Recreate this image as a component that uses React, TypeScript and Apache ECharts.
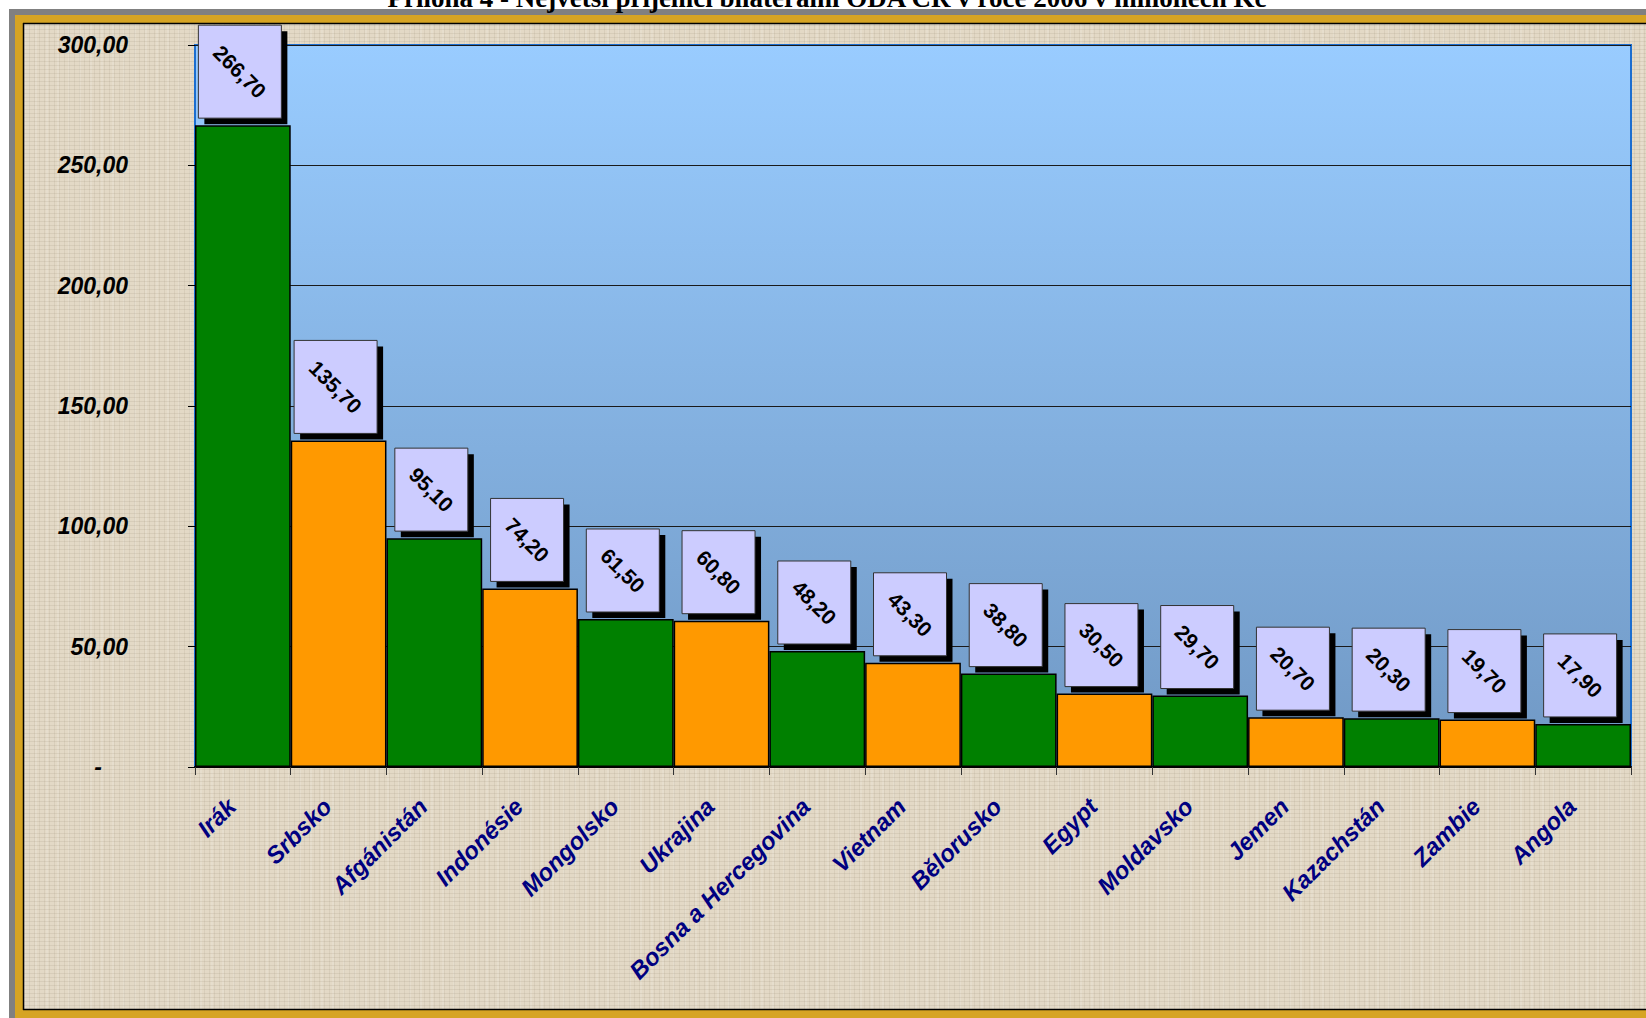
import React, { useEffect, useRef } from "react";
import * as echarts from "echarts";

const titleText = "Příloha 4 - Největší příjemci bilaterální ODA ČR v roce 2006 v milionech Kč";
const categories = [
  "Irák", "Srbsko", "Afgánistán", "Indonésie", "Mongolsko", "Ukrajina",
  "Bosna a Hercegovina", "Vietnam", "Bělorusko", "Egypt", "Moldavsko",
  "Jemen", "Kazachstán", "Zambie", "Angola",
];
const values = [266.7, 135.7, 95.1, 74.2, 61.5, 60.8, 48.2, 43.3, 38.8, 30.5, 29.7, 20.7, 20.3, 19.7, 17.9];
const barColors = ["#008000", "#FF9900"];
const yMin = 0;
const yMax = 300;
const yInterval = 50;

const fmt = (v: number) => v.toFixed(2).replace(".", ",");
const FONT = "Liberation Sans, Arial, sans-serif";

export default function App() {
  const ref = useRef<HTMLDivElement>(null);
  useEffect(() => {
    if (!ref.current) return;
    const chart = echarts.init(ref.current, null, { renderer: "svg" });
    const W = 1646, H = 1018;
    chart.setOption({
      animation: false,
      backgroundColor: "transparent",
      grid: {
        left: 195, top: 45, right: 15, bottom: 251,
        show: true,
        borderColor: "#1C6ED0",
        borderWidth: 2,
        backgroundColor: new echarts.graphic.LinearGradient(0, 0, 0, 1, [
          { offset: 0, color: "#99CCFF" },
          { offset: 1, color: "#7098C4" },
        ]),
      },
      xAxis: {
        type: "category",
        data: categories,
        axisLine: { lineStyle: { color: "#000", width: 2 } },
        axisTick: { show: true, length: 8, lineStyle: { color: "#333", width: 1 } },
        axisLabel: {
          interval: 0,
          rotate: 45,
          margin: 24,
          padding: [0, 16, 32, 0],
          color: "#000080",
          fontFamily: FONT,
          fontWeight: "bold",
          fontStyle: "italic",
          fontSize: 24,
        },
        z: 5,
      },
      yAxis: {
        type: "value",
        min: yMin,
        max: yMax,
        interval: yInterval,
        axisLine: { show: false },
        axisTick: { show: true, length: 7, lineStyle: { color: "#000" } },
        splitLine: { show: true, lineStyle: { color: "#1a1a1a", width: 1 } },
        axisLabel: {
          margin: 67,
          color: "#000",
          fontFamily: FONT,
          fontWeight: "bold",
          fontStyle: "italic",
          fontSize: 23,
          formatter: (v: number) => (v === 0 ? "{z|-}" : fmt(v)),
          rich: {
            z: { fontFamily: FONT, fontWeight: "bold", fontSize: 23, color: "#000", padding: [0, 26, 0, 0] },
          },
        },
      },
      series: [
        {
          type: "bar",
          barCategoryGap: "0%",
          data: values.map((v, i) => ({
            value: v,
            itemStyle: { color: barColors[i % 2], borderColor: "#000", borderWidth: 1.5 },
          })),
          z: 3,
        },
        {
          type: "custom",
          z: 10,
          clip: false,
          encode: { x: 0, y: 1 },
          data: values.map((v, i) => [i, v]),
          renderItem: (params: any, api: any) => {
            const idx = api.value(0);
            const v = api.value(1);
            const p = api.coord([idx, v]);
            const txt = fmt(v);
            const w = 23 + 10 * txt.length;
            const h = w + 10;
            const cx = p[0] - 3;
            const x = cx - w / 2;
            const y = p[1] - 7 - h;
            return {
              type: "group",
              children: [
                { type: "rect", shape: { x: x + 6, y: y + 6, width: w, height: h }, style: { fill: "#000" } },
                { type: "rect", shape: { x, y, width: w, height: h }, style: { fill: "#CCCCFF", stroke: "#333", lineWidth: 1 } },
                {
                  type: "text",
                  x: cx,
                  y: y + h / 2,
                  rotation: -Math.PI / 4,
                  style: {
                    text: txt,
                    fill: "#000",
                    font: 'bold 21px "Liberation Sans", Arial, sans-serif',
                    align: "center",
                    verticalAlign: "middle",
                  },
                },
              ],
            };
          },
        },
      ],
      graphic: [
        { type: "rect", shape: { x: 9, y: 9, width: W - 9, height: 6 }, style: { fill: "#808080" }, silent: true },
        { type: "rect", shape: { x: 9, y: 9, width: 6, height: H - 9 }, style: { fill: "#808080" }, silent: true },
        { type: "rect", shape: { x: 15, y: 15, width: W - 15, height: 8 }, style: { fill: "#D6A423" }, silent: true },
        { type: "rect", shape: { x: 15, y: 15, width: 8, height: H - 15 }, style: { fill: "#D6A423" }, silent: true },
        { type: "rect", shape: { x: 15, y: 1010, width: W - 15, height: 8 }, style: { fill: "#D6A423" }, silent: true },
        { type: "line", shape: { x1: 23, y1: 23.5, x2: W, y2: 23.5 }, style: { stroke: "#000", lineWidth: 1.5 }, silent: true },
        { type: "line", shape: { x1: 23.5, y1: 23, x2: 23.5, y2: 1010 }, style: { stroke: "#000", lineWidth: 1.5 }, silent: true },
        { type: "line", shape: { x1: 23, y1: 1009.5, x2: W, y2: 1009.5 }, style: { stroke: "#000", lineWidth: 1.5 }, silent: true },
        {
          type: "text",
          x: 827,
          y: -2,
          silent: true,
          style: {
            text: titleText,
            fill: "#000",
            font: 'bold 27px "Liberation Serif", "Times New Roman", serif',
            align: "center",
            verticalAlign: "middle",
            textAlign: "center",
            textVerticalAlign: "middle",
          },
        },
      ],
    });
    return () => chart.dispose();
  }, []);

  return (
    <div style={{ position: "absolute", left: 0, top: 0, width: 1646, height: 1018, background: "#fff", overflow: "hidden" }}>
      <div
        style={{
          position: "absolute",
          left: 24,
          top: 24,
          width: 1622,
          height: 986,
          backgroundColor: "#E3D9C6",
          backgroundImage:
            "repeating-linear-gradient(0deg, rgba(110,95,70,0.10) 0px, rgba(110,95,70,0.10) 1px, transparent 1px, transparent 4px), repeating-linear-gradient(90deg, rgba(110,95,70,0.09) 0px, rgba(110,95,70,0.09) 1px, transparent 1px, transparent 5px), repeating-linear-gradient(90deg, rgba(255,255,255,0.12) 0px, rgba(255,255,255,0.12) 2px, transparent 2px, transparent 11px)",
        }}
      />
      <div ref={ref} style={{ position: "absolute", left: 0, top: 0, width: 1646, height: 1018 }} />
    </div>
  );
}
